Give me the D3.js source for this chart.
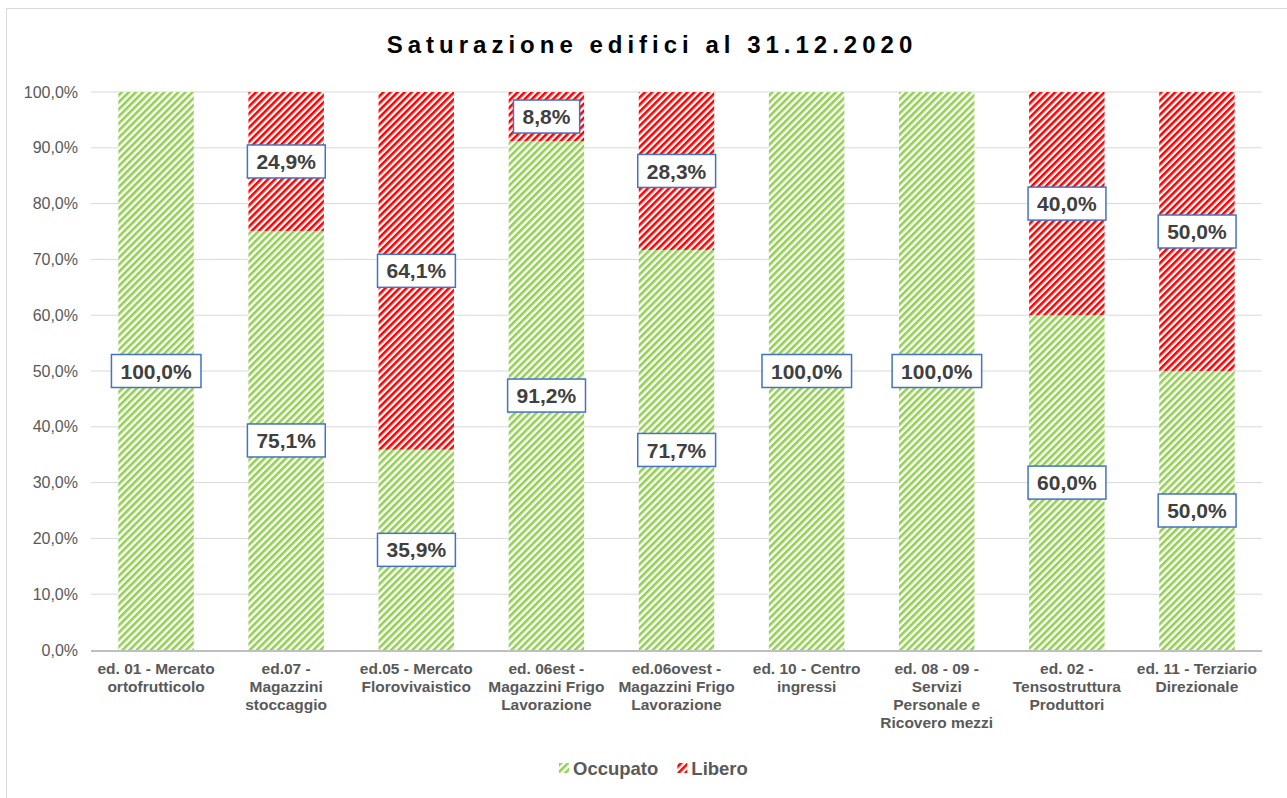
<!DOCTYPE html>
<html lang="it">
<head>
<meta charset="UTF-8">
<title>Saturazione edifici al 31.12.2020</title>
<script src="https://d3js.org/d3.v7.min.js"></script>
<style>
  body { margin: 0; background: #fff; font-family: "Liberation Sans", Arial, sans-serif; }
  svg { display: block; }
</style>
</head>
<body>
<div id="chart"></div>
<script>
// dati
const categories = [
  "ed. 01 - Mercato|ortofrutticolo",
  "ed.07 -|Magazzini|stoccaggio",
  "ed.05 - Mercato|Florovivaistico",
  "ed. 06est -|Magazzini Frigo|Lavorazione",
  "ed.06ovest -|Magazzini Frigo|Lavorazione",
  "ed. 10 - Centro|ingressi",
  "ed. 08 - 09 -|Servizi|Personale e|Ricovero mezzi",
  "ed. 02 -|Tensostruttura|Produttori",
  "ed. 11 - Terziario|Direzionale"
];
const occupato = [100.0, 75.1, 35.9, 91.2, 71.7, 100.0, 100.0, 60.0, 50.0];
const libero   = [0.0, 24.9, 64.1, 8.8, 28.3, 0.0, 0.0, 40.0, 50.0];
const yTicks = [0, 10, 20, 30, 40, 50, 60, 70, 80, 90, 100];

const W = 1287, H = 798;
const m = { left: 91, right: 1262, top: 92, bottom: 650 };

const svg = d3.select("#chart").append("svg")
  .attr("width", W).attr("height", H);

// pattern a righe diagonali
const defs = svg.append("defs");
function stripes(id, color) {
  const p = defs.append("pattern")
    .attr("id", id)
    .attr("patternUnits", "userSpaceOnUse")
    .attr("width", 5).attr("height", 5)
    .attr("patternTransform", "rotate(45)");
  p.append("rect").attr("width", 5).attr("height", 5).attr("fill", "#fff");
  p.append("rect").attr("width", 2.6).attr("height", 5).attr("fill", color);
}
stripes("pOcc", "#92d050");
stripes("pLib", "#ff0000");

// cornice
svg.append("rect")
  .attr("x", 6.5).attr("y", 8.5)
  .attr("width", W).attr("height", H)
  .attr("fill", "none").attr("stroke", "#d9d9d9");

// titolo
svg.append("text")
  .attr("x", 652).attr("y", 53)
  .attr("text-anchor", "middle")
  .attr("font-size", 24).attr("font-weight", "bold")
  .attr("letter-spacing", 5)
  .attr("fill", "#000")
  .text("Saturazione edifici al 31.12.2020");

const x = d3.scaleBand().domain(d3.range(categories.length))
  .range([m.left, m.right]).paddingInner(0.42).paddingOuter(0.21);
const y = d3.scaleLinear().domain([0, 100]).range([m.bottom, m.top]);

// griglia
svg.append("g").selectAll("line").data(yTicks.filter(d => d > 0)).join("line")
  .attr("x1", m.left).attr("x2", m.right)
  .attr("y1", d => y(d)).attr("y2", d => y(d))
  .attr("stroke", "#d9d9d9").attr("stroke-width", 1);

// asse y
const yAxis = svg.append("g")
  .attr("transform", `translate(${m.left},0)`)
  .call(d3.axisLeft(y).tickValues(yTicks).tickSize(0).tickPadding(13)
    .tickFormat(d => d.toFixed(1).replace(".", ",") + "%"));
yAxis.select(".domain").remove();
yAxis.selectAll("text")
  .attr("font-size", 16).attr("fill", "#595959")
  .attr("font-family", "Liberation Sans, Arial, sans-serif");

// barre
const stack = categories.map((c, i) => ({ i, occ: occupato[i], lib: libero[i] }));
const bars = svg.append("g");
bars.selectAll("rect.occ").data(stack).join("rect")
  .attr("class", "occ")
  .attr("x", d => x(d.i)).attr("width", x.bandwidth())
  .attr("y", d => y(d.occ)).attr("height", d => y(0) - y(d.occ))
  .attr("fill", "url(#pOcc)");
bars.selectAll("rect.lib").data(stack.filter(d => d.lib > 0)).join("rect")
  .attr("class", "lib")
  .attr("x", d => x(d.i)).attr("width", x.bandwidth())
  .attr("y", d => y(d.occ + d.lib)).attr("height", d => y(d.occ) - y(d.occ + d.lib))
  .attr("fill", "url(#pLib)");

// asse x
svg.append("line")
  .attr("x1", m.left).attr("x2", m.right)
  .attr("y1", y(0) + 1).attr("y2", y(0) + 1)
  .attr("stroke", "#bfbfbf").attr("stroke-width", 2);

const xl = svg.append("g").selectAll("text").data(categories).join("text")
  .attr("x", (d, i) => x(i) + x.bandwidth() / 2)
  .attr("y", 674)
  .attr("text-anchor", "middle")
  .attr("font-size", 15.5).attr("font-weight", "bold").attr("fill", "#595959");
xl.each(function(d) {
  const t = d3.select(this);
  d.split("|").forEach((s, k) => {
    t.append("tspan").attr("x", t.attr("x")).attr("dy", k === 0 ? 0 : 18).text(s);
  });
});

// etichette dati
const labels = [];
stack.forEach(d => {
  labels.push({ i: d.i, v: d.occ, mid: d.occ / 2 });
  if (d.lib > 0) labels.push({ i: d.i, v: d.lib, mid: d.occ + d.lib / 2 });
});
const lg = svg.append("g").selectAll("g").data(labels).join("g")
  .attr("transform", d => `translate(${x(d.i) + x.bandwidth() / 2},${y(d.mid)})`);
lg.append("text")
  .attr("text-anchor", "middle").attr("dy", "0.36em")
  .attr("font-size", 21).attr("font-weight", "bold").attr("fill", "#404040")
  .text(d => d.v.toFixed(1).replace(".", ",") + "%");
lg.each(function() {
  const g = d3.select(this);
  const b = g.select("text").node().getBBox();
  g.insert("rect", "text")
    .attr("x", b.x - 9).attr("y", -16.5)
    .attr("width", b.width + 18).attr("height", 33)
    .attr("fill", "#fff").attr("stroke", "#4472c4").attr("stroke-width", 1.5);
});

// legenda
const legend = [{ name: "Occupato", fill: "url(#pOcc)" }, { name: "Libero", fill: "url(#pLib)" }];
const leg = svg.append("g");
let lx = 559;
legend.forEach(l => {
  leg.append("rect").attr("x", lx).attr("y", 763).attr("width", 10).attr("height", 10).attr("fill", l.fill);
  const t = leg.append("text").attr("x", lx + 14).attr("y", 775)
    .attr("font-size", 18.5).attr("font-weight", "bold").attr("fill", "#595959").text(l.name);
  lx += 14 + t.node().getComputedTextLength() + 19;
});
</script>
</body>
</html>
